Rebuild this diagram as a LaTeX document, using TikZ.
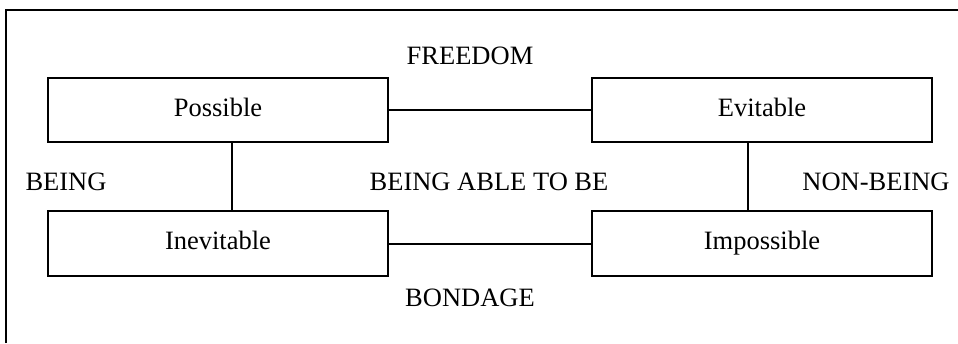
\documentclass[tikz,border=0pt]{standalone}
\usepackage{fontspec}
\setmainfont{Liberation Serif}
\begin{document}
\begin{tikzpicture}[x=1pt,y=1pt,
  every node/.style={font=\fontsize{26.5}{30}\selectfont},
  box/.style={draw, line width=2pt, minimum width=340pt, minimum height=64pt,
    inner sep=0pt, text height=18pt, text depth=6pt},
  link/.style={line width=2pt},
  caption/.style={inner sep=0pt, anchor=base}]
\useasboundingbox (0,0) rectangle (958,343);
% partial outer frame
\draw[line width=2pt] (6,0) -- (6,333) -- (958,333);
% the four modal boxes
\node[box] (pos) at (218,232.5) {Possible};
\node[box] (evi) at (762,232.5) {Evitable};
\node[box] (ine) at (218,99.5) {Inevitable};
\node[box] (imp) at (762,99.5) {Impossible};
% connectors
\draw[link] (pos.east) -- (evi.west);
\draw[link] (ine.east) -- (imp.west);
\draw[link] ([xshift=14pt]pos.south) -- ([xshift=14pt]ine.north);
\draw[link] ([xshift=-14pt]evi.south) -- ([xshift=-14pt]imp.north);
% labels
\node[caption] (free) at (470,278) {FREEDOM};
\node[caption] (bond) at (470,37) {BONDAGE};
\node[caption] (being) at (66,153) {BEING};
\node[caption] (able) at (489,153) {BEING ABLE TO BE};
\node[caption] (non) at (876,153) {NON-BEING};
\end{tikzpicture}
\end{document}
